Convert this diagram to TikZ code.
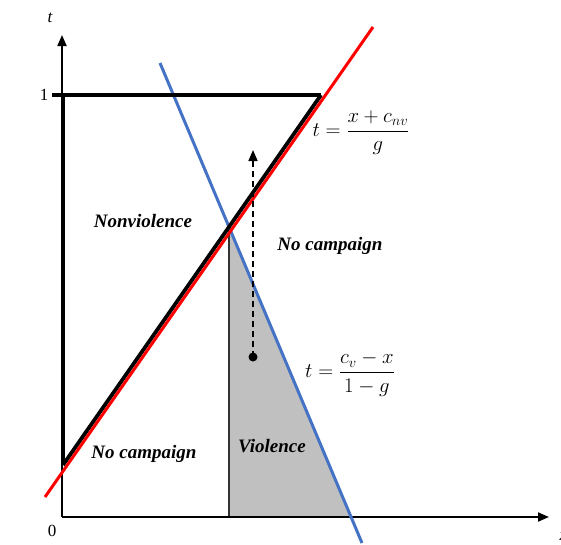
\documentclass[tikz,border=0pt]{standalone}
\usepackage{amsmath}
\usepackage{fontspec}
\setmainfont{Liberation Serif}
\usepackage{tikz}
\usetikzlibrary{arrows.meta, positioning, calc}
\definecolor{linered}{RGB}{255,0,0}
\definecolor{lineblue}{RGB}{68,114,196}
\definecolor{violgray}{RGB}{192,192,192}

\tikzset{
  regionlabel/.style={font=\fontsize{19}{22}\selectfont\bfseries\itshape},
  eqlabel/.style={font=\fontsize{20}{24}\selectfont},
  axislabel/.style={font=\fontsize{17}{20}\selectfont},
  axisline/.style={line width=2pt, -{Triangle[length=11pt,width=9pt]}},
}

\begin{document}
\begin{tikzpicture}[x=1pt, y=-1pt]
  \useasboundingbox (0,0) rectangle (561,544);
  % key points (picture coordinates, y downwards)
  \coordinate (origin) at (62,517);
  \coordinate (ttop) at (62,35);
  \coordinate (xright) at (549,517);
  \coordinate (cross) at (229,230);
  \coordinate (crossfoot) at (229,517);
  \coordinate (bluefoot) at (350,517);
  \coordinate (tick) at (52,95);
  \coordinate (corner) at (63,95);
  \coordinate (cap) at (321,95);
  \coordinate (meet) at (63,465);
  \coordinate (redlow) at (45,497);
  \coordinate (redhigh) at (373,27);
  \coordinate (bluehigh) at (160,63);
  \coordinate (bluelow) at (362,543);
  \coordinate (arrowtip) at (253,150);

  % violence region
  \fill[violgray] (cross) -- (crossfoot) -- (bluefoot) -- cycle;
  \draw[line width=1.3pt, black!80] (cross) -- (crossfoot);

  % axes
  \draw[axisline] (origin) -- (ttop);
  \draw[axisline] (origin) -- (xright);

  % lines
  \draw[lineblue, line width=3pt] (bluehigh) -- (bluelow);
  \draw[line width=3.8pt] (tick) -- (cap);
  \draw[line width=3.8pt] (corner) -- (meet);
  \draw[line width=3.8pt] (meet) -- (cap);
  \draw[linered, line width=3pt] (redlow) -- (redhigh);

  % dashed move
  \node[circle, fill, inner sep=0pt, minimum size=9pt] (dot) at (253,357) {};
  \draw[dashed, dash pattern=on 6pt off 4pt, line width=1.6pt, -{Triangle[length=11pt,width=9pt]}] (dot.center) -- (arrowtip);

  % axis labels
  \node[axislabel, font=\fontsize{17}{20}\selectfont\itshape] (tlab) at (50,18) {t};
  \node[axislabel] (onelab) at (44,95) {1};
  \node[axislabel] (zerolab) at (52,531) {0};
  \node[axislabel, font=\fontsize{17}{20}\selectfont\itshape, anchor=west] (xlab) at (556,537) {x};

  % region labels
  \node[regionlabel] (nonviol) at (143,221) {Nonviolence};
  \node[regionlabel] (nocampup) at (330,246) {No campaign};
  \node[regionlabel] (nocamplow) at (144,454) {No campaign};
  \node[regionlabel] (viol) at (272,446) {Violence};

  % equations
  \node[eqlabel] (eqred) at (361,133) {$t=\dfrac{x+c_{nv}}{g}$};
  \node[eqlabel] (eqblue) at (350,374) {$t=\dfrac{c_v-x}{1-g}$};
\end{tikzpicture}
\end{document}
